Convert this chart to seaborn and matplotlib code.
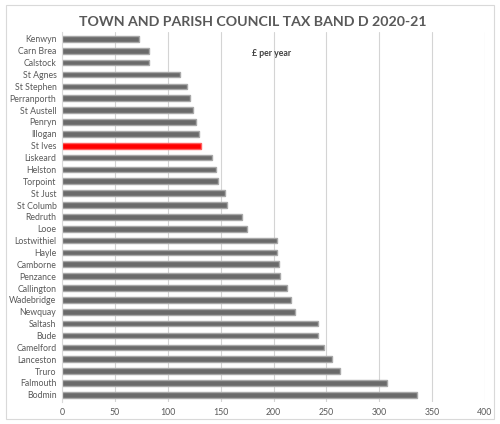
import matplotlib
matplotlib.use("Agg")
import matplotlib.pyplot as plt
import seaborn as sns
import pandas as pd
from matplotlib.patches import Rectangle

# ---------------- DATA ----------------
parishes = ["Kenwyn", "Carn Brea", "Calstock", "St Agnes", "St Stephen", "Perranporth",
            "St Austell", "Penryn", "Illogan", "St Ives", "Liskeard", "Helston", "Torpoint",
            "St Just", "St Columb", "Redruth", "Looe", "Lostwithiel", "Hayle", "Camborne",
            "Penzance", "Callington", "Wadebridge", "Newquay", "Saltash", "Bude", "Camelford",
            "Lanceston", "Truro", "Falmouth", "Bodmin"]
band_d = [73, 82, 82.5, 111.6, 118.5, 121, 123.6, 126.7, 129.5, 131, 141.8, 145.6, 147.5,
          154.5, 156.3, 170, 175, 203.6, 203.6, 205.5, 206.5, 212.5, 216.3, 220.6, 242, 242,
          247.7, 255.3, 262.9, 307, 335.4]
highlight = "St Ives"
xticks = [0, 50, 100, 150, 200, 250, 300, 350, 400]

df = pd.DataFrame({"parish": parishes, "tax": band_d})
pal = {p: ("#ff0000" if p == highlight else "#6a6a6a") for p in parishes}
edges = ["#ff6060" if p == highlight else "#a8a8a8" for p in parishes]

# ---------------- PLOT ----------------
sns.set_style("white")
plt.rcParams["font.family"] = ["Lato", "DejaVu Sans"]

fig = plt.figure(figsize=(5, 4.24), dpi=100)
fig.patches.append(Rectangle((0.012, 0.012), 0.976, 0.976, transform=fig.transFigure,
                             fill=False, edgecolor="#d9d9d9", linewidth=0.8))
ax = fig.add_axes([0.124, 0.052, 0.846, 0.873])

sns.barplot(data=df, y="parish", x="tax", hue="parish", palette=pal, legend=False,
            width=0.48, ax=ax, orient="h", saturation=1)
# blurry edge like the excel shadow effect
for bar, ec in zip(ax.patches, edges):
    bar.set_edgecolor(ec)
    bar.set_linewidth(1.0)

ax.set_xlim(0, 400)
ax.set_ylim(30.6, -0.6)
ax.set_xticks(xticks)
ax.xaxis.grid(True, color="#d4d4d4", linewidth=0.8)
ax.set_axisbelow(True)
for s in ["top", "right", "bottom"]:
    ax.spines[s].set_visible(False)
ax.spines["left"].set_color("#d9d9d9")
ax.tick_params(axis="both", length=0, labelsize=6.3, colors="#595959", pad=4)
ax.set_xlabel("")
ax.set_ylabel("")

ax.text(198, 1.2, "£ per year", fontsize=6.3, fontweight="bold", color="#404040",
        ha="center", va="center")
fig.text(0.505, 0.948, "TOWN AND PARISH COUNCIL TAX BAND D 2020-21", fontsize=10.2,
         fontweight="bold", color="#595959", ha="center", va="center")

fig.savefig("out.png", dpi=100)
